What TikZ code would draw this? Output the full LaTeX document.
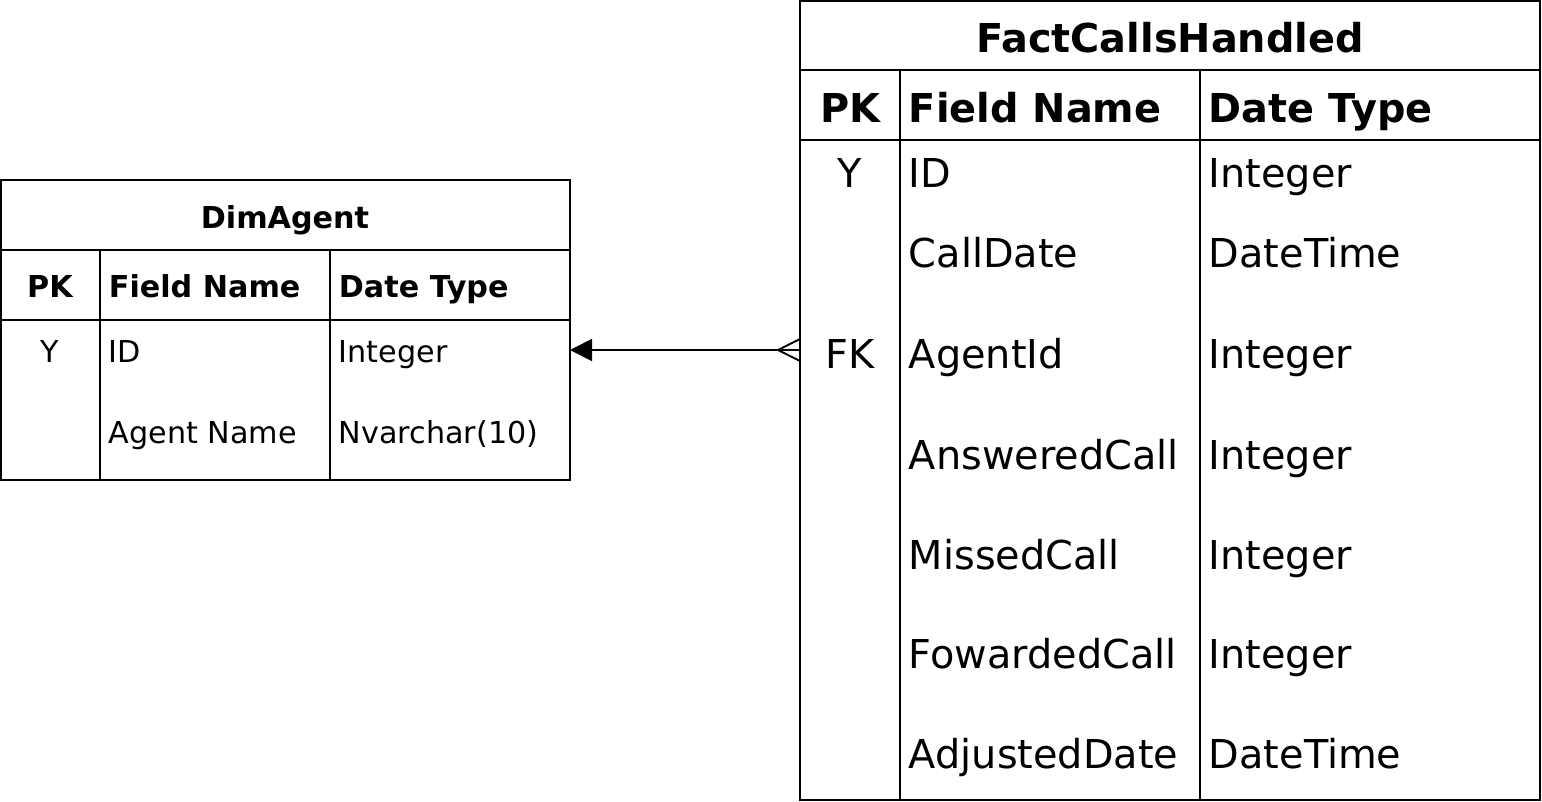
\documentclass[tikz,border=0pt]{standalone}
\usepackage{fontspec}
\setmainfont{DejaVu Sans}
\usetikzlibrary{arrows.meta,calc}

\tikzset{
  bigtxt/.style={inner sep=0pt, font=\fontsize{19.9pt}{23pt}\selectfont},
  smalltxt/.style={inner sep=0pt, font=\fontsize{15.1pt}{18pt}\selectfont},
  bigbold/.style={bigtxt, font=\fontsize{19.9pt}{23pt}\selectfont\bfseries},
  smallbold/.style={smalltxt, font=\fontsize{15.1pt}{18pt}\selectfont\bfseries},
}

\begin{document}
\begin{tikzpicture}[x=0.5pt, y=-0.5pt, line width=0.9pt, >={Triangle[length=11pt,width=11pt]}]
  \useasboundingbox (0,0) rectangle (1542,802);

  % таблица DimAgent
  \draw (1,180) rectangle (570,480);
  \draw (1,250) -- (570,250);
  \draw (1,320) -- (570,320);
  \draw (100,250) -- (100,480);
  \draw (330,250) -- (330,480);

  \node[smallbold, anchor=base] (dim-title) at (285,229) {DimAgent};
  \node[smallbold, anchor=base] (dim-pk) at (50,298) {PK};
  \node[smallbold, anchor=base west] (dim-field) at (108,298) {Field Name};
  \node[smallbold, anchor=base west] (dim-type) at (338,298) {Date Type};

  \foreach \y/\pk/\f/\t [count=\i] in {363/Y/ID/Integer, 443//Agent Name/{Nvarchar(10)}}{
    \node[smalltxt, anchor=base] (dim-pk-\i) at (50,\y) {\pk};
    \node[smalltxt, anchor=base west] (dim-name-\i) at (108,\y) {\f};
    \node[smalltxt, anchor=base west] (dim-type-\i) at (338,\y) {\t};
  }

  % таблица FactCallsHandled
  \draw (800,1) rectangle (1540,800);
  \draw (800,70) -- (1540,70);
  \draw (800,140) -- (1540,140);
  \draw (900,70) -- (900,800);
  \draw (1200,70) -- (1200,800);

  \node[bigbold, anchor=base] (fact-title) at (1170,53) {FactCallsHandled};
  \node[bigbold, anchor=base] (fact-pk) at (850,123) {PK};
  \node[bigbold, anchor=base west] (fact-field) at (908,123) {Field Name};
  \node[bigbold, anchor=base west] (fact-type) at (1208,123) {Date Type};

  \foreach \y/\pk/\f/\t [count=\i] in {188/Y/ID/Integer, 268//CallDate/DateTime,
      368/FK/AgentId/Integer, 469//AnsweredCall/Integer, 569//MissedCall/Integer,
      668//FowardedCall/Integer, 768//AdjustedDate/DateTime}{
    \node[bigtxt, anchor=base] (fact-pk-\i) at (850,\y) {\pk};
    \node[bigtxt, anchor=base west] (fact-name-\i) at (908,\y) {\f};
    \node[bigtxt, anchor=base west] (fact-type-\i) at (1208,\y) {\t};
  }

  % связь AgentId -> ID (много к одному)
  \coordinate (fact-agentid) at (800,350);
  \coordinate (dim-id) at (570,350);
  \draw[->] (fact-agentid) -- (dim-id);
  \draw ($(fact-agentid)+(0,-11)$) -- ($(fact-agentid)+(-22,0)$) -- ($(fact-agentid)+(0,11)$);
\end{tikzpicture}
\end{document}
